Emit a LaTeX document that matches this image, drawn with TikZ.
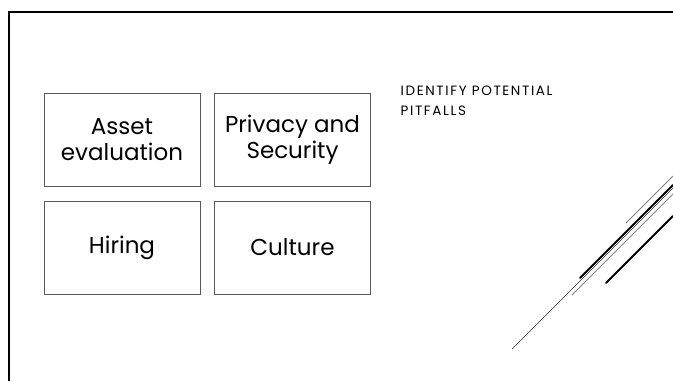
\documentclass[tikz,border=0pt]{standalone}
\usepackage{fontspec}
\setmainfont{Poppins}
\usepackage{tikz}
\usetikzlibrary{positioning}
\tikzset{
         pitfall/.style=
          {
           draw=black!65,
           line width=.9pt,
           minimum width=156pt,
           minimum height=93pt,
           align=center,
           inner sep=0pt,
           font=\fontsize{23}{26}\selectfont
          },
         slice/.style={line cap=round}
        }
\begin{document}
\begin{tikzpicture}[x=1pt,y=-1pt]
\useasboundingbox[fill=white](0,0)rectangle(673,381);
%frame
\draw[line width=2.5pt](8.8,381)--(8.8,11.8)--(673,11.8);
%boxes
\node[pitfall](asset)at(122,139.5){Asset\\evaluation};
\node[pitfall](privacy)at(292.5,139.5){Privacy and\\Security};
\node[pitfall](hiring)at(122,247.5){Hiring};
\node[pitfall](culture)at(292.5,247.5){Culture};
%title
\node[anchor=north west,align=left,inner sep=0pt,font=\fontsize{13.5}{20}\selectfont\addfontfeatures{LetterSpace=12}](title)at(400.5,86){IDENTIFY POTENTIAL\\PITFALLS};
%slices
\draw[slice,line width=.6pt,black!80](512,349)--(673,188);
\draw[slice,line width=.8pt,black!50](572,295)--(673,194);
\draw[slice,line width=1.8pt](580,278)--(673,185);
\draw[slice,line width=.8pt,black!50](626,223)--(673,176);
\draw[slice,line width=1.8pt](606,283)--(673,216);
\end{tikzpicture}
\end{document}
